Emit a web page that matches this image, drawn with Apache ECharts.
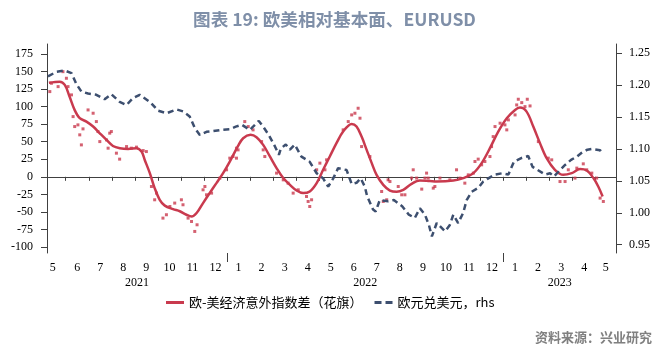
<!DOCTYPE html>
<html>
<head>
<meta charset="utf-8">
<script src="https://cdn.jsdelivr.net/npm/echarts@6/dist/echarts.min.js"></script>
<style>
html, body { margin: 0; padding: 0; background: #fff; }
#main { width: 669px; height: 351px; }
</style>
</head>
<body>
<div id="main"></div>
<script>
// 横轴单位：自2021年5月1日起的月数
var redLineT = [0.27, 0.74, 0.96, 1.17, 1.39, 1.61, 1.90, 2.19, 2.48, 2.77, 3.05, 3.35, 3.71, 4.07, 4.29, 4.43, 4.65, 4.86, 5.08, 5.30, 5.66, 5.95, 6.24, 6.46, 6.68, 6.96, 7.25, 7.54, 7.83, 8.12, 8.48, 8.70, 9.02, 9.28, 9.57, 9.86, 10.15, 10.44, 10.73, 11.02, 11.30, 11.59, 11.89, 12.17, 12.46, 12.75, 13.04, 13.41, 13.62, 13.84, 14.06, 14.28, 14.49, 14.78, 15.07, 15.36, 15.65, 16.01, 16.37, 16.80, 17.10, 17.82, 18.25, 18.69, 19.05, 19.41, 19.77, 20.14, 20.50, 20.71, 21.00, 21.29, 21.58, 21.87, 22.23, 22.59, 22.96, 23.32, 23.61, 23.90, 24.11, 24.30];
var redLineV = [134, 135.6, 131, 114, 95, 83.5, 78.7, 71.6, 62, 52.6, 44, 40.8, 39.8, 40.8, 36, 24, 5.3, -16, -32.7, -41, -46, -49, -54, -56.5, -51.6, -37.4, -23, -9, 5.3, 21.8, 44, 55, 59.8, 56.5, 45.5, 29, 12.4, -1.8, -11.4, -19.5, -23.2, -20.9, -9, 10, 29, 48, 64.5, 75.4, 71.6, 57.3, 38.4, 19.5, 2.8, -11.4, -19.5, -21.3, -18.5, -10, -5.3, -6.1, -6.7, -5.3, -1.8, 5.3, 19.5, 40.8, 64.5, 83.5, 95.3, 98.6, 92.9, 71.6, 48, 26.6, 10, 2.8, 5.3, 11, 9, -1.8, -13.8, -28];

// 原始散点
var dotT = [0.31, 0.38, 0.67, 0.88, 1.03, 1.10, 1.25, 1.32, 1.39, 1.53, 1.61, 1.68, 1.75, 1.97, 2.19, 2.33, 2.40, 2.48, 2.77, 2.91, 2.98, 2.84, 3.20, 3.34, 3.64, 3.85, 4.07, 4.36, 4.50, 4.72, 4.86, 4.94, 5.22, 5.37, 5.52, 5.73, 6.02, 6.09, 6.31, 6.46, 6.60, 6.70, 6.96, 7.04, 7.11, 7.33, 7.69, 7.98, 8.12, 8.26, 8.41, 8.41, 8.48, 8.77, 8.92, 9.13, 9.50, 9.57, 9.64, 10.15, 10.44, 10.65, 10.87, 11.09, 11.45, 11.52, 11.59, 11.67, 11.89, 12.03, 12.25, 12.32, 13.04, 13.26, 13.41, 13.55, 13.69, 13.77, 13.84, 14.20, 14.71, 14.78, 14.93, 14.99, 15.07, 15.43, 15.58, 15.72, 16.01, 16.08, 16.23, 16.45, 16.59, 16.66, 16.73, 16.95, 17.02, 17.24, 17.67, 17.96, 18.11, 18.32, 18.47, 18.69, 18.76, 18.90, 19.05, 19.19, 19.41, 19.48, 19.55, 19.63, 19.85, 20.06, 20.14, 20.21, 20.50, 20.57, 20.64, 20.79, 20.93, 21.03, 21.15, 21.51, 21.94, 22.09, 22.45, 22.67, 22.81, 23.10, 23.18, 23.46, 23.61, 23.83, 24.04, 24.19, 24.33];
var dotV = [121.4, 133.3, 128.5, 149.8, 140.4, 128.5, 116.7, 85.8, 71.6, 74, 59.8, 45.5, 68.3, 95.3, 90.6, 78.7, 64.5, 50.2, 52.6, 62.2, 64.5, 40.8, 33.7, 25.2, 43.1, 40.8, 42.3, 37.4, 36, -13.8, -32.7, -23.2, -58.8, -54, -42.3, -37.4, -32.7, -39.8, -58.8, -63.6, -77.8, -68.3, -18.5, -13.8, -25.6, -23.2, -1.8, 10, 26.6, 28.9, 40.8, 26.6, 38.4, 78.7, 71.6, 66.9, 50.2, 38.4, 28.9, 5.3, -4.3, -9, -23.2, -18.5, -28, -35.1, -42.3, -32.7, 10, 19.5, 10, 24.2, 66.9, 78.7, 88.2, 90.6, 97.7, 83.5, 43.1, 28.9, -20.9, -35.1, -32.7, -4.3, -6.7, -13.8, -25.6, -25.6, -1.8, 10, -1.8, -17.5, -1.8, 5.3, -1.8, -16.1, -13.8, -1.8, -4.3, 10, -1.8, -9, 2.8, 5.3, 21.8, 25.2, 17.1, 21.8, 28.9, 43.1, 57.3, 71.6, 76.4, 74, 66.9, 81.1, 88.2, 102.4, 110.5, 105.7, 100, 110.5, 101, 50.2, 26.6, 24.2, -6.7, -6.7, 10, -1.8, 12.4, 18.5, 10, 5.3, -1.8, -30.3, -35.1];

// 欧元兑美元
var eurT = [0.23, 0.60, 0.96, 1.25, 1.46, 1.68, 1.97, 2.33, 2.69, 2.98, 3.34, 3.64, 3.92, 4.21, 4.68, 5.01, 5.37, 5.81, 6.09, 6.38, 6.60, 6.82, 7.11, 7.40, 7.76, 8.12, 8.38, 8.64, 8.99, 9.13, 9.38, 9.57, 9.81, 10.08, 10.25, 10.34, 10.55, 10.73, 10.94, 11.23, 11.59, 11.89, 12.17, 12.39, 12.61, 12.82, 13.19, 13.41, 13.62, 13.80, 13.98, 14.08, 14.34, 14.45, 14.63, 14.99, 15.24, 15.61, 15.89, 16.15, 16.37, 16.59, 16.76, 16.89, 17.10, 17.24, 17.46, 17.67, 17.82, 18.03, 18.25, 18.40, 18.62, 18.90, 19.12, 19.34, 19.63, 19.95, 20.21, 20.45, 20.79, 21.07, 21.26, 21.44, 21.80, 22.02, 22.19, 22.45, 22.67, 22.93, 23.18, 23.39, 23.64, 23.83, 24.19, 24.30];
var eurV = [1.214, 1.221, 1.223, 1.219, 1.202, 1.19, 1.187, 1.185, 1.178, 1.186, 1.174, 1.169, 1.18, 1.185, 1.173, 1.16, 1.156, 1.162, 1.159, 1.151, 1.133, 1.122, 1.127, 1.128, 1.13, 1.131, 1.135, 1.138, 1.13, 1.135, 1.144, 1.135, 1.122, 1.104, 1.091, 1.101, 1.107, 1.099, 1.107, 1.088, 1.08, 1.062, 1.054, 1.041, 1.054, 1.07, 1.067, 1.045, 1.047, 1.054, 1.041, 1.026, 1.005, 1.002, 1.02, 1.018, 1.02, 1.01, 0.997, 0.992, 1.007, 0.997, 0.981, 0.963, 0.984, 0.979, 0.971, 0.981, 0.997, 0.984, 1.0, 1.02, 1.033, 1.039, 1.049, 1.054, 1.06, 1.062, 1.06, 1.08, 1.086, 1.089, 1.072, 1.068, 1.06, 1.062, 1.057, 1.067, 1.075, 1.083, 1.088, 1.094, 1.099, 1.1, 1.098, 1.092];

// 刻度
var monthBounds = [1, 2, 3, 4, 5, 6, 7, 8, 9, 10, 11, 12, 13, 14, 15, 16, 17, 18, 19, 20, 21, 22, 23, 24];
var monthLabelPos = [0.44, 1.5, 2.5, 3.5, 4.5, 5.5, 6.5, 7.5, 8.5, 9.5, 10.5, 11.5, 12.5, 13.5, 14.5, 15.5, 16.5, 17.5, 18.5, 19.5, 20.5, 21.5, 22.5, 23.5, 24.44];
var yearBounds = [8, 20];
var yearLabelPos = [4.09, 14, 22.44];
var leftTicks = [-100, -75, -50, -25, 0, 25, 50, 75, 100, 125, 150, 175];
var rightTicks = [0.95, 1.00, 1.05, 1.10, 1.15, 1.20, 1.25];

var redName = '欧-美经济意外指数差（花旗）';
var blueName = '欧元兑美元，rhs';
var red = '#C93A4E';
var blue = '#3D4F6F';
var axisColor = '#404040';
var xMin = 0.188, xMax = 24.88;

function pairs(t, v) {
	var arr = [];
	for (var i = 0; i < t.length; i++) {
		arr.push([t[i], v[i]]);
	}
	return arr;
}

var labelFont = { color: '#000', fontFamily: 'Liberation Serif', fontSize: 12 };

var myChart = echarts.init(document.getElementById('main'));

myChart.setOption({
	animation: false,
	backgroundColor: '#fff',
	title: [{
		text: '图表 19: 欧美相对基本面、EURUSD',
		left: 'center',
		top: 6,
		textStyle: { color: '#7F8FA8', fontSize: 17.6, fontWeight: 'bold', fontFamily: 'Noto Sans CJK SC' }
	}, {
		text: '资料来源：兴业研究',
		right: 12,
		top: 326,
		textStyle: { color: '#808080', fontSize: 13, fontWeight: 'bold', fontFamily: 'Noto Sans CJK SC' }
	}],
	legend: {
		data: [
			{ name: redName, icon: 'path://M0,0h18v3h-18z' },
			{ name: blueName, icon: 'path://M0,0h7v3h-7z M11,0h7v3h-7z' }
		],
		left: 161,
		top: 291,
		itemWidth: 18,
		itemHeight: 3,
		itemGap: 12,
		textStyle: { color: '#000', fontSize: 13, fontFamily: 'Noto Sans CJK SC' }
	},
	grid: { left: 47, right: 53, top: 44, bottom: 98 },
	xAxis: [{
		type: 'value',
		min: xMin,
		max: xMax,
		position: 'bottom',
		axisLine: { lineStyle: { color: axisColor } },
		axisTick: { show: true, customValues: monthBounds, length: 4, lineStyle: { color: axisColor } },
		axisLabel: Object.assign({
			customValues: monthLabelPos,
			margin: 9,
			formatter: function (v) {
				var m = (5 + Math.floor(v)) % 12;
				return m === 0 ? '12' : String(m);
			}
		}, labelFont),
		splitLine: { show: false }
	}, {
		type: 'value',
		min: xMin,
		max: xMax,
		position: 'bottom',
		axisLine: { show: false },
		axisTick: { show: true, customValues: yearBounds, length: 9, lineStyle: { color: axisColor } },
		axisLabel: Object.assign({
			customValues: yearLabelPos,
			margin: 24,
			formatter: function (v) {
				return v < 8 ? '2021' : (v < 20 ? '2022' : '2023');
			}
		}, labelFont),
		splitLine: { show: false }
	}],
	yAxis: [{
		type: 'value',
		min: -108.5,
		max: 189.2,
		position: 'left',
		axisLine: { show: true, lineStyle: { color: axisColor } },
		axisTick: { show: true, customValues: leftTicks, length: 6, lineStyle: { color: axisColor } },
		axisLabel: Object.assign({ customValues: leftTicks, margin: 14 }, labelFont),
		splitLine: { show: false }
	}, {
		type: 'value',
		min: 0.937,
		max: 1.2646,
		position: 'right',
		axisLine: { show: true, lineStyle: { color: axisColor } },
		axisTick: { show: true, customValues: rightTicks, length: 6, lineStyle: { color: axisColor } },
		axisLabel: Object.assign({
			customValues: rightTicks,
			margin: 13,
			formatter: function (v) { return v.toFixed(2); }
		}, labelFont),
		splitLine: { show: false }
	}],
	series: [{
		name: '意外指数日度',
		type: 'scatter',
		xAxisIndex: 0,
		yAxisIndex: 0,
		symbol: 'rect',
		symbolSize: 3,
		itemStyle: { color: red },
		data: pairs(dotT, dotV)
	}, {
		name: redName,
		type: 'line',
		xAxisIndex: 0,
		yAxisIndex: 0,
		smooth: 0.35,
		symbol: 'none',
		itemStyle: { color: red },
		lineStyle: { color: red, width: 2.5 },
		data: pairs(redLineT, redLineV)
	}, {
		name: blueName,
		type: 'line',
		xAxisIndex: 0,
		yAxisIndex: 1,
		symbol: 'none',
		itemStyle: { color: blue },
		lineStyle: { color: blue, width: 2.5, type: [6, 4] },
		data: pairs(eurT, eurV)
	}]
});
</script>
</body>
</html>
